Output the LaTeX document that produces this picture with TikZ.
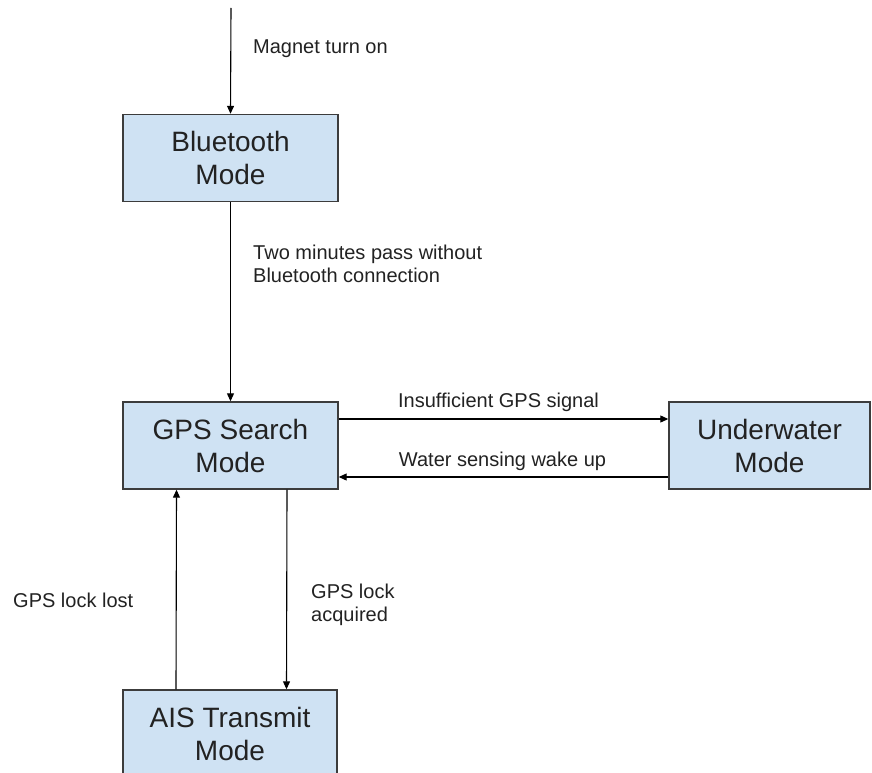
\documentclass[tikz,border=0pt]{standalone}
\usepackage{fontspec}
\setmainfont{Liberation Sans}
\usetikzlibrary{arrows.meta}
\definecolor{boxfill}{HTML}{CFE2F3}
\definecolor{boxline}{HTML}{3C3C3C}
\definecolor{txt}{HTML}{222222}
\tikzset{
  modebox/.style={draw=boxline, fill=boxfill, line width=1.4pt, minimum width=215pt, minimum height=87pt,
    inner sep=0pt, align=center, text=txt, font=\fontsize{28}{33}\selectfont},
  lbl/.style={inner sep=0pt, text=txt, font=\fontsize{20}{23}\selectfont},
  arr/.style={draw=black, line width=1.1pt, -{Triangle[length=8pt,width=7pt]}}
}
\begin{document}
\begin{tikzpicture}[x=1pt,y=-1pt]
\useasboundingbox (0,0) rectangle (872,773);
\clip (0,0) rectangle (872,773);
\fill[white] (0,0) rectangle (872,773);
% boxes
\node[modebox] (bt) at (230.5,158) {Bluetooth\\Mode};
\node[modebox] (gps) at (230.5,445.5) {GPS Search\\Mode};
\node[modebox, minimum width=201pt] (uw) at (769.5,445.5) {Underwater\\Mode};
\node[modebox, minimum width=214pt] (ais) at (230,733.5) {AIS Transmit\\Mode};
% start
\coordinate (start) at (231,8);
\draw[arr] (start) -- (bt.north);
\draw[arr] (bt.south) -- (gps.north);
\draw[arr] ([yshift=26.5pt]gps.east) -- ([yshift=26.5pt]uw.west);
\draw[arr] ([yshift=-31.5pt]uw.west) -- ([yshift=-31.5pt]gps.east);
\draw[arr] ([xshift=-54pt]ais.north) -- ([xshift=-54pt]gps.south);
\draw[arr] ([xshift=56.5pt]gps.south) -- ([xshift=56.5pt]ais.north);
% labels
\node[lbl, anchor=base west] (l1) at (253,54) {Magnet turn on};
\node[lbl, anchor=north west, align=left] (l2) at (253,245) {Two minutes pass without\\Bluetooth connection};
\node[lbl, anchor=base] (l3) at (498.5,407) {Insufficient GPS signal};
\node[lbl, anchor=base] (l4) at (502.5,466) {Water sensing wake up};
\node[lbl, anchor=base west] (l5) at (13,607) {GPS lock lost};
\node[lbl, anchor=north west, align=left] (l6) at (311,584) {GPS lock\\acquired};
\end{tikzpicture}
\end{document}
